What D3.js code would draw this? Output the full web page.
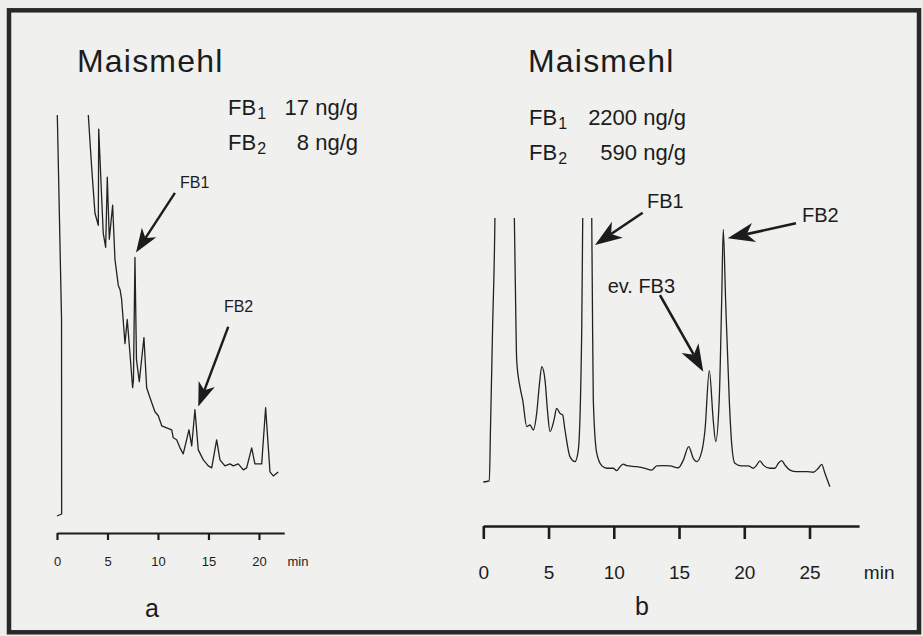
<!DOCTYPE html>
<html>
<head>
<meta charset="utf-8">
<script src="https://cdn.jsdelivr.net/npm/d3@7/dist/d3.min.js"></script>
<style>
  html, body { margin: 0; padding: 0; background: #ededeb; }
  svg { display: block; }
  text { font-family: "Liberation Sans", Arial, Helvetica, sans-serif; fill: #1c1c1c; }
</style>
</head>
<body>
<div class="svg-container"></div>
<script>
// chromatogram a: [time in min, signal in % of full scale], > 100 is off scale
var traceA = [
  [0, 0], [0.46, 0.5], [0.45, 49], [0.03, 100], [-0.02, 112], [1.5, 140],
  [3.05, 104], [3.10, 100], [3.43, 87], [3.76, 75.5], [4.09, 72.5], [4.13, 96.5],
  [4.43, 79], [4.58, 70.5], [4.82, 67], [4.98, 84.5], [5.18, 69], [5.51, 77.5],
  [5.74, 64], [6.07, 57.5], [6.24, 56.5], [6.40, 54], [6.73, 43], [6.96, 49],
  [7.49, 32], [7.57, 34], [7.72, 64.5], [7.87, 39], [8.15, 33.5], [8.61, 44.5],
  [8.88, 32], [9.21, 29.5], [9.70, 26], [10.03, 25], [10.37, 22.5], [10.86, 22],
  [11.36, 21.5], [11.51, 19.5], [11.85, 19], [12.18, 17], [12.50, 15.5], [13.07, 21.5],
  [13.34, 17.5], [13.66, 26.5], [13.99, 16.5], [14.49, 14], [14.98, 12.5], [15.32, 12],
  [15.81, 19], [16.14, 14], [16.63, 12.5], [17.13, 13], [17.46, 12.5], [17.95, 13],
  [18.45, 11.5], [18.78, 12], [19.28, 17], [19.60, 13], [20.27, 13], [20.66, 27],
  [21.09, 11], [21.42, 10], [21.91, 11]
];

// chromatogram b
var traceB = [
  [0, 0], [0.46, 0.4], [0.55, 20], [0.72, 60], [0.89, 100], [0.95, 130], [1.6, 160],
  [2.3, 130], [2.38, 100], [2.47, 70], [2.56, 46], [2.81, 36], [3.02, 31],
  [3.33, 21], [3.58, 21.6], [3.83, 19.7], [4.09, 26], [4.30, 37], [4.48, 43.7],
  [4.73, 38.6], [4.92, 27], [5.11, 19.1], [5.42, 23.5], [5.62, 27.9], [5.88, 26],
  [6.08, 25.4], [6.26, 19.7], [6.64, 9.6], [7.03, 7.7], [7.28, 12.1], [7.54, 56.4],
  [7.62, 100], [7.7, 130], [8.0, 160], [8.25, 130], [8.31, 100], [8.36, 69],
  [8.43, 31.1], [8.69, 11], [9.07, 6.2], [9.46, 5.2], [9.96, 5.2], [10.22, 4.3],
  [10.48, 5.8], [10.73, 6.8], [10.99, 6.2], [11.75, 5.8], [12.39, 5.2], [12.90, 4.5],
  [13.29, 6.1], [13.79, 6.2], [14.31, 6.1], [14.94, 5.4], [15.33, 8.3], [15.74, 13.4],
  [16.09, 9.0], [16.35, 7.7], [16.74, 11.5], [16.99, 19.7], [17.32, 42.2], [17.62, 23.5],
  [17.81, 15.3], [18.08, 31.1], [18.27, 68.9], [18.39, 95.7], [18.57, 68.9], [18.85, 31.1],
  [19.03, 14.8], [19.28, 7.1], [19.80, 6.1], [20.31, 6.1], [20.69, 5.2], [20.95, 6.4],
  [21.20, 8.0], [21.46, 6.4], [21.97, 5.2], [22.35, 5.2], [22.61, 7.1], [22.87, 8.1],
  [23.12, 6.4], [23.50, 4.5], [24.02, 3.9], [24.78, 3.9], [25.29, 3.7], [25.67, 5.2],
  [25.93, 6.7], [26.18, 3.3], [26.56, -1.8]
];

var ticksA = [0, 5, 10, 15, 20];
var ticksB = [0, 5, 10, 15, 20, 25];

var sampleTitles = ["Maismehl", "Maismehl"];
var panelLetters = ["a", "b"];
var fbSubscripts = ["1", "2"];
var concentrationsA = ["17 ng/g", "8 ng/g"];
var concentrationsB = ["2200 ng/g", "590 ng/g"];

// peak annotations, in [time, signal] of each panel
var peakLabelsA = [
  { text: "FB1", label: [12.18, 81.8], tail: [11.68, 80.6], head: [7.82, 65.7] },
  { text: "FB2", label: [16.53, 50.9], tail: [16.96, 47.2], head: [13.99, 27.3] }
];
var peakLabelsB = [
  { text: "FB1", label: [12.54, 103.8], tail: [12.21, 102], head: [8.56, 89.8] },
  { text: "FB2", label: [24.42, 98.6], tail: [23.96, 98], head: [18.73, 92.3] },
  { text: "ev. FB3", label: [9.53, 71.7], tail: [13.54, 70.8], head: [16.86, 41.8] }
];

var ChromatogramBuilder = (function() {
  var _svg = undefined;
  var _ink = "#1c1c1c";

  var _panelA = {
    className: "panel-a",
    trace: traceA,
    curve: d3.curveLinear,
    ticks: ticksA,
    axisEnd: 22.5,
    xRange: [57, 284.2],
    yRange: [516, 115],
    axisY: 533,
    tickLength: 7,
    axisWidth: 2.2,
    labelOffset: 32.7,
    axisFont: 13,
    title: sampleTitles[0],
    titlePos: [77, 72],
    infoX: [228, 358],
    infoY: [115, 150],
    concentrations: concentrationsA,
    peaks: peakLabelsA,
    peakFont: 16,
    arrowWidth: 2.4,
    head: [24, 9],
    letter: panelLetters[0],
    letterPos: [152, 617]
  };

  var _panelB = {
    className: "panel-b",
    trace: traceB,
    curve: d3.curveMonotoneX,
    ticks: ticksB,
    axisEnd: 28.8,
    xRange: [483.3, 859.1],
    yRange: [482, 218],
    axisY: 526,
    tickLength: 13,
    axisWidth: 2.6,
    labelOffset: 53,
    axisFont: 19,
    title: sampleTitles[1],
    titlePos: [528, 72],
    infoX: [529, 686],
    infoY: [125, 160],
    concentrations: concentrationsB,
    peaks: peakLabelsB,
    peakFont: 20,
    arrowWidth: 2.6,
    head: [27, 9.5],
    letter: panelLetters[1],
    letterPos: [642, 615]
  };

  var _drawArrow = function(group, tail, tip, size, width) {
    var dx = tip[0] - tail[0], dy = tip[1] - tail[1];
    var len = Math.sqrt(dx * dx + dy * dy);
    var ux = dx / len, uy = dy / len;
    var px = -uy, py = ux;
    var bx = tip[0] - ux * size, by = tip[1] - uy * size;
    var nx = tip[0] - ux * size * 0.72, ny = tip[1] - uy * size * 0.72;

    group.append("line")
      .attr("x1", tail[0]).attr("y1", tail[1])
      .attr("x2", nx).attr("y2", ny)
      .attr("stroke", _ink)
      .attr("stroke-width", width);

    group.append("path")
      .attr("d", "M" + tip[0] + "," + tip[1] +
                 "L" + (bx + px * size * 0.36) + "," + (by + py * size * 0.36) +
                 "L" + nx + "," + ny +
                 "L" + (bx - px * size * 0.36) + "," + (by - py * size * 0.36) + "Z")
      .attr("fill", _ink);
  };

  var _buildPanel = function(config) {
    var xScale = d3.scaleLinear().domain([0, config.axisEnd]).range(config.xRange);
    var yScale = d3.scaleLinear().domain([0, 100]).range(config.yRange);

    var g = _svg.append("g").attr("class", config.className);

    //clip everything above full scale
    g.append("clipPath")
      .attr("id", config.className + "-clip")
      .append("rect")
        .attr("x", config.xRange[0] - 30)
        .attr("y", config.yRange[1])
        .attr("width", config.xRange[1] - config.xRange[0] + 60)
        .attr("height", config.axisY - config.yRange[1]);

    var line = d3.line()
      .x(function(d) { return xScale(d[0]); })
      .y(function(d) { return yScale(d[1]); })
      .curve(config.curve);

    g.append("path")
      .datum(config.trace)
      .attr("clip-path", "url(#" + config.className + "-clip)")
      .attr("d", line)
      .attr("fill", "none")
      .attr("stroke", "#222")
      .attr("stroke-width", 1.3)
      .attr("stroke-linejoin", "round");

    //time axis
    var xAxis = d3.axisBottom(xScale)
      .tickValues(config.ticks)
      .tickSize(config.tickLength)
      .tickSizeOuter(0)
      .tickFormat(d3.format("d"));

    var axisGroup = g.append("g")
      .attr("transform", "translate(0," + config.axisY + ")")
      .call(xAxis);

    axisGroup.select(".domain")
      .attr("stroke", _ink)
      .attr("stroke-width", config.axisWidth);

    axisGroup.selectAll(".tick line")
      .attr("stroke", _ink)
      .attr("stroke-width", config.axisWidth);

    axisGroup.selectAll(".tick text")
      .attr("y", config.labelOffset)
      .attr("dy", 0)
      .attr("font-size", config.axisFont);

    axisGroup.append("text")
      .attr("x", config.xRange[1] + config.axisFont * 0.25)
      .attr("y", config.labelOffset)
      .attr("text-anchor", "start")
      .attr("font-size", config.axisFont)
      .text("min");

    //sample title
    g.append("text")
      .attr("x", config.titlePos[0])
      .attr("y", config.titlePos[1])
      .attr("font-size", 32)
      .attr("letter-spacing", 1.2)
      .text(config.title);

    //fumonisin contents
    config.concentrations.forEach(function(value, i) {
      var label = g.append("text")
        .attr("x", config.infoX[0])
        .attr("y", config.infoY[i])
        .attr("font-size", 22);
      label.append("tspan").text("FB");
      label.append("tspan")
        .attr("dx", 1)
        .attr("dy", 4)
        .attr("font-size", 16)
        .text(fbSubscripts[i]);

      g.append("text")
        .attr("x", config.infoX[1])
        .attr("y", config.infoY[i])
        .attr("text-anchor", "end")
        .attr("font-size", 22)
        .text(value);
    });

    //peak arrows
    config.peaks.forEach(function(peak) {
      g.append("text")
        .attr("x", xScale(peak.label[0]))
        .attr("y", yScale(peak.label[1]))
        .attr("font-size", config.peakFont)
        .text(peak.text);

      _drawArrow(g,
        [xScale(peak.tail[0]), yScale(peak.tail[1])],
        [xScale(peak.head[0]), yScale(peak.head[1])],
        config.head[0], config.arrowWidth);
    });

    g.append("text")
      .attr("x", config.letterPos[0])
      .attr("y", config.letterPos[1])
      .attr("text-anchor", "middle")
      .attr("font-size", 25)
      .text(config.letter);
  };

  var init = function() {
    _svg = d3.select(".svg-container")
      .append("svg")
        .attr("width", 923)
        .attr("height", 636);

    _svg.append("rect")
      .attr("width", 923)
      .attr("height", 636)
      .attr("fill", "#ededeb");

    _svg.append("rect")
      .attr("x", 9)
      .attr("y", 10.3)
      .attr("width", 910)
      .attr("height", 622)
      .attr("fill", "#f0f0ee")
      .attr("stroke", "#282828")
      .attr("stroke-width", 4.5);

    _buildPanel(_panelA);
    _buildPanel(_panelB);
  };

  return {
    init: init
  };
})();

ChromatogramBuilder.init();
</script>
</body>
</html>
